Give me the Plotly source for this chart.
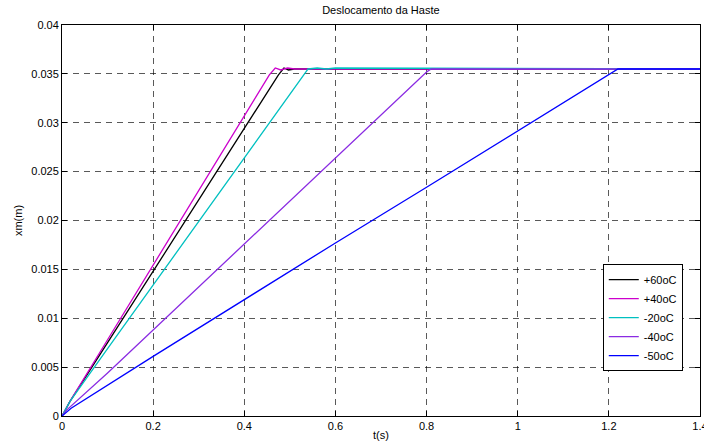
import plotly.graph_objects as go

# Data
names = ["+60oC", "+40oC", "-20oC", "-40oC", "-50oC"]
colors = ["#000000", "#cc00cc", "#00c0c0", "#8a2be2", "#0000ff"]

t_p60 = [0, 0.0175, 0.10, 0.20, 0.30, 0.40, 0.475, 0.487, 0.497, 0.51, 0.53, 1.4]
v_p60 = [0, 0.0015, 0.0075, 0.0148, 0.0221, 0.0294, 0.0349, 0.0356, 0.0354, 0.0355, 0.0355, 0.0355]

t_p40 = [0, 0.0175, 0.10, 0.20, 0.30, 0.40, 0.455, 0.468, 0.48, 0.495, 0.51, 1.4]
v_p40 = [0, 0.0015, 0.0078, 0.0154, 0.0231, 0.0307, 0.0349, 0.0356, 0.0354, 0.0356, 0.0355, 0.0355]

t_m20 = [0, 0.0175, 0.10, 0.20, 0.30, 0.40, 0.50, 0.54, 0.56, 0.58, 0.60, 1.4]
v_m20 = [0, 0.0015, 0.0069, 0.0134, 0.0199, 0.0264, 0.0329, 0.0355, 0.0356, 0.0355, 0.0356, 0.0355]

t_m40 = [0, 0.01, 0.10, 0.20, 0.30, 0.40, 0.50, 0.60, 0.70, 0.80, 0.81, 1.4]
v_m40 = [0, 0.0006, 0.0044, 0.0088, 0.0132, 0.0176, 0.0220, 0.0264, 0.0308, 0.0352, 0.0355, 0.0355]

t_m50 = [0, 0.02, 0.20, 0.40, 0.60, 0.80, 1.00, 1.20, 1.22, 1.4]
v_m50 = [0, 0.0008, 0.0061, 0.0119, 0.0177, 0.0234, 0.0292, 0.0350, 0.0355, 0.0355]

series_t = [t_p60, t_p40, t_m20, t_m40, t_m50]
series_v = [v_p60, v_p40, v_m20, v_m40, v_m50]

x_ticks = [0, 0.2, 0.4, 0.6, 0.8, 1, 1.2, 1.4]
x_labels = ["0", "0.2", "0.4", "0.6", "0.8", "1", "1.2", "1.4"]
y_ticks = [0, 0.005, 0.01, 0.015, 0.02, 0.025, 0.03, 0.035, 0.04]
y_labels = ["0", "0.005", "0.01", "0.015", "0.02", "0.025", "0.03", "0.035", "0.04"]

fig = go.Figure()
for n, c, t, v in zip(names, colors, series_t, series_v):
    fig.add_trace(go.Scatter(x=t, y=v, mode="lines", name=n,
                             line=dict(color=c, width=1.3)))

font = dict(family="Liberation Sans, Arial, Helvetica, sans-serif", size=11, color="black")
axis_common = dict(showline=True, linecolor="black", linewidth=1, mirror="ticks",
                   ticks="inside", ticklen=5, tickcolor="black",
                   showgrid=True, gridcolor="rgba(0,0,0,0.65)", gridwidth=1,
                   griddash="6px,5px", zeroline=False, tickfont=font,
                   ticklabeloverflow="allow", automargin=False)

fig.update_layout(
    width=704, height=446,
    margin=dict(l=62, r=4, t=25, b=30),
    paper_bgcolor="white", plot_bgcolor="white",
    font=font,
    title=dict(text="Deslocamento da Haste", x=0.541, xanchor="center",
               y=0.985, yanchor="top", font=dict(size=11)),
    xaxis=dict(range=[0, 1.4], tickvals=x_ticks, ticktext=x_labels,
               title=dict(text="t(s)", standoff=0, font=dict(size=11)), **axis_common),
    yaxis=dict(range=[0, 0.04], tickvals=y_ticks, ticktext=y_labels,
               title=dict(text="xm(m)", standoff=6, font=dict(size=11)), **axis_common),
    legend=dict(x=0.973, y=0.115, xanchor="right", yanchor="bottom",
                bgcolor="white", bordercolor="black", borderwidth=1,
                font=dict(size=11), tracegroupgap=0, itemwidth=30),
    showlegend=True,
)

fig.write_html("out.html", config={"displayModeBar": False},
               post_script="document.body.style.margin='0';document.body.style.overflow='hidden';")
